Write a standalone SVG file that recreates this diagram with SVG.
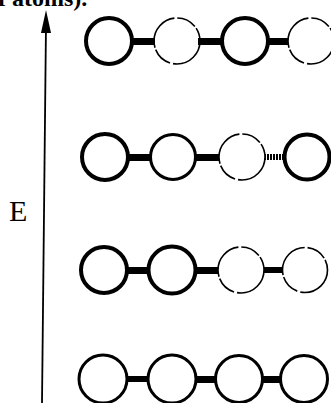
<svg xmlns="http://www.w3.org/2000/svg" width="331" height="403" viewBox="0 0 331 403">
<style>
.thick{fill:none;stroke:#000;stroke-width:4}
.med{fill:none;stroke:#000;stroke-width:3}
.thin{fill:none;stroke:#000;stroke-width:1.6;stroke-dasharray:40 3 20 2}
.bond{fill:#000}
.lbl{font-family:"Liberation Serif",serif;fill:#000}
</style>
<defs>
<pattern id="hatch" width="3" height="8" patternUnits="userSpaceOnUse">
<rect x="0" y="0" width="2" height="8" fill="#000"/>
</pattern>
</defs>
<text class="lbl" x="-2" y="6" font-size="24" font-weight="bold">f atoms).</text>
<g id="axis">
<line x1="46" y1="24" x2="42" y2="403" stroke="#000" stroke-width="1.8"/>
<polygon points="46,10 41,33 51,33" fill="#000"/>
</g>
<g id="label-E"><text class="lbl" x="9" y="221" font-size="30">E</text></g>
<g id="connectors">
<rect class="bond" x="132" y="38" width="23" height="7"/>
<rect class="bond" x="198" y="38" width="25" height="7"/>
<rect class="bond" x="268" y="38" width="20" height="7"/>
<rect class="bond" x="128" y="154" width="24" height="7"/>
<rect class="bond" x="196" y="154" width="23" height="7"/>
<rect x="265" y="154" width="20" height="6" fill="url(#hatch)"/>
<rect class="bond" x="127" y="267" width="22" height="7"/>
<rect class="bond" x="196" y="267" width="22" height="7"/>
<rect class="bond" x="264" y="267" width="19" height="6"/>
<rect class="bond" x="127" y="376" width="21" height="6"/>
<rect class="bond" x="196" y="376" width="20" height="7"/>
<rect class="bond" x="263" y="376" width="17" height="7"/>
</g>
<g id="row1">
<circle class="thick" cx="109" cy="41" r="23"/>
<circle class="thin" cx="177" cy="41" r="23"/>
<circle class="thick" cx="245" cy="41" r="23"/>
<circle class="thin" cx="311" cy="41" r="23"/>
</g>
<g id="row2">
<circle class="thick" cx="105" cy="157" r="23"/>
<circle class="med" cx="173" cy="157" r="22.5"/>
<circle class="thin" cx="242" cy="157" r="23"/>
<circle class="thick" cx="307" cy="157" r="22.5"/>
</g>
<g id="row3">
<circle class="thick" cx="104" cy="270" r="23"/>
<circle class="thick" cx="172" cy="270" r="23.5"/>
<circle class="thin" cx="241" cy="270" r="23"/>
<circle class="thin" cx="305" cy="270" r="22.5"/>
</g>
<g id="row4">
<circle class="med" cx="103" cy="379" r="24"/>
<circle class="med" cx="172" cy="379" r="24"/>
<circle class="med" cx="239" cy="379" r="23.5"/>
<circle class="med" cx="304" cy="379" r="23.5"/>
</g>
</svg>
